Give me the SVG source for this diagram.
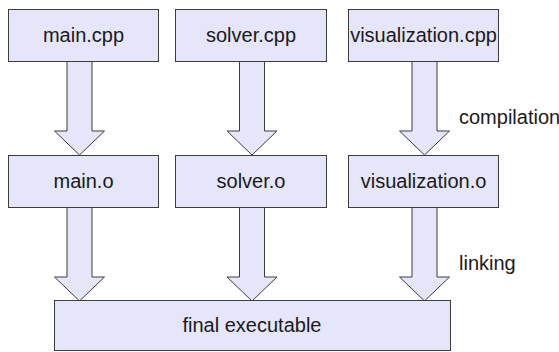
<svg xmlns="http://www.w3.org/2000/svg" xmlns:xlink="http://www.w3.org/1999/xlink" width="559" height="352" viewBox="0 0 559 352">
  <style>
    .box { fill: #e6e6fa; stroke: #3c3c3c; stroke-width: 1; }
    .arrow { fill: #e6e6fa; stroke: #3c3c3c; stroke-width: 1; stroke-linejoin: miter; }
    .lbl { font-family: "Liberation Sans", Arial, sans-serif; font-size: 20px; fill: #1a1a1a; text-anchor: middle; }
    .side { font-family: "Liberation Sans", Arial, sans-serif; font-size: 20px; fill: #1a1a1a; }
  </style>
  <defs>
    <!-- block arrow, origin at the middle of its top edge -->
    <path id="blockArrow" class="arrow" d="M-12.5,0 V70 H-25 L0,94 L25,70 H12.5 V0 Z"/>
  </defs>

  <rect width="559" height="352" fill="#ffffff"/>

  <!-- connectors: compilation and linking steps -->
  <g id="connectors">
    <use xlink:href="#blockArrow" x="79.5" y="61"/>
    <use xlink:href="#blockArrow" x="252" y="61"/>
    <use xlink:href="#blockArrow" x="424.5" y="61"/>
    <use xlink:href="#blockArrow" x="79.5" y="207"/>
    <use xlink:href="#blockArrow" x="252" y="207"/>
    <use xlink:href="#blockArrow" x="424.5" y="207"/>
    <text class="side" x="459" y="124">compilation</text>
    <text class="side" x="459" y="270">linking</text>
  </g>

  <!-- source files -->
  <g id="main_cpp">
    <rect class="box" x="8.5" y="9.5" width="150" height="52"/>
    <text class="lbl" x="83.5" y="42">main.cpp</text>
  </g>
  <g id="solver_cpp">
    <rect class="box" x="175.5" y="9.5" width="151" height="52"/>
    <text class="lbl" x="251" y="42">solver.cpp</text>
  </g>
  <g id="visualization_cpp">
    <rect class="box" x="348.5" y="9.5" width="150" height="52"/>
    <text class="lbl" x="423.5" y="42">visualization.cpp</text>
  </g>

  <!-- object files -->
  <g id="main_o">
    <rect class="box" x="8.5" y="155.5" width="150" height="52"/>
    <text class="lbl" x="83.5" y="188">main.o</text>
  </g>
  <g id="solver_o">
    <rect class="box" x="175.5" y="155.5" width="151" height="52"/>
    <text class="lbl" x="251" y="188">solver.o</text>
  </g>
  <g id="visualization_o">
    <rect class="box" x="348.5" y="155.5" width="150" height="52"/>
    <text class="lbl" x="423.5" y="188">visualization.o</text>
  </g>

  <!-- linked result -->
  <g id="final_executable">
    <rect class="box" x="54.5" y="300.5" width="396" height="50"/>
    <text class="lbl" x="252" y="332">final executable</text>
  </g>
</svg>
